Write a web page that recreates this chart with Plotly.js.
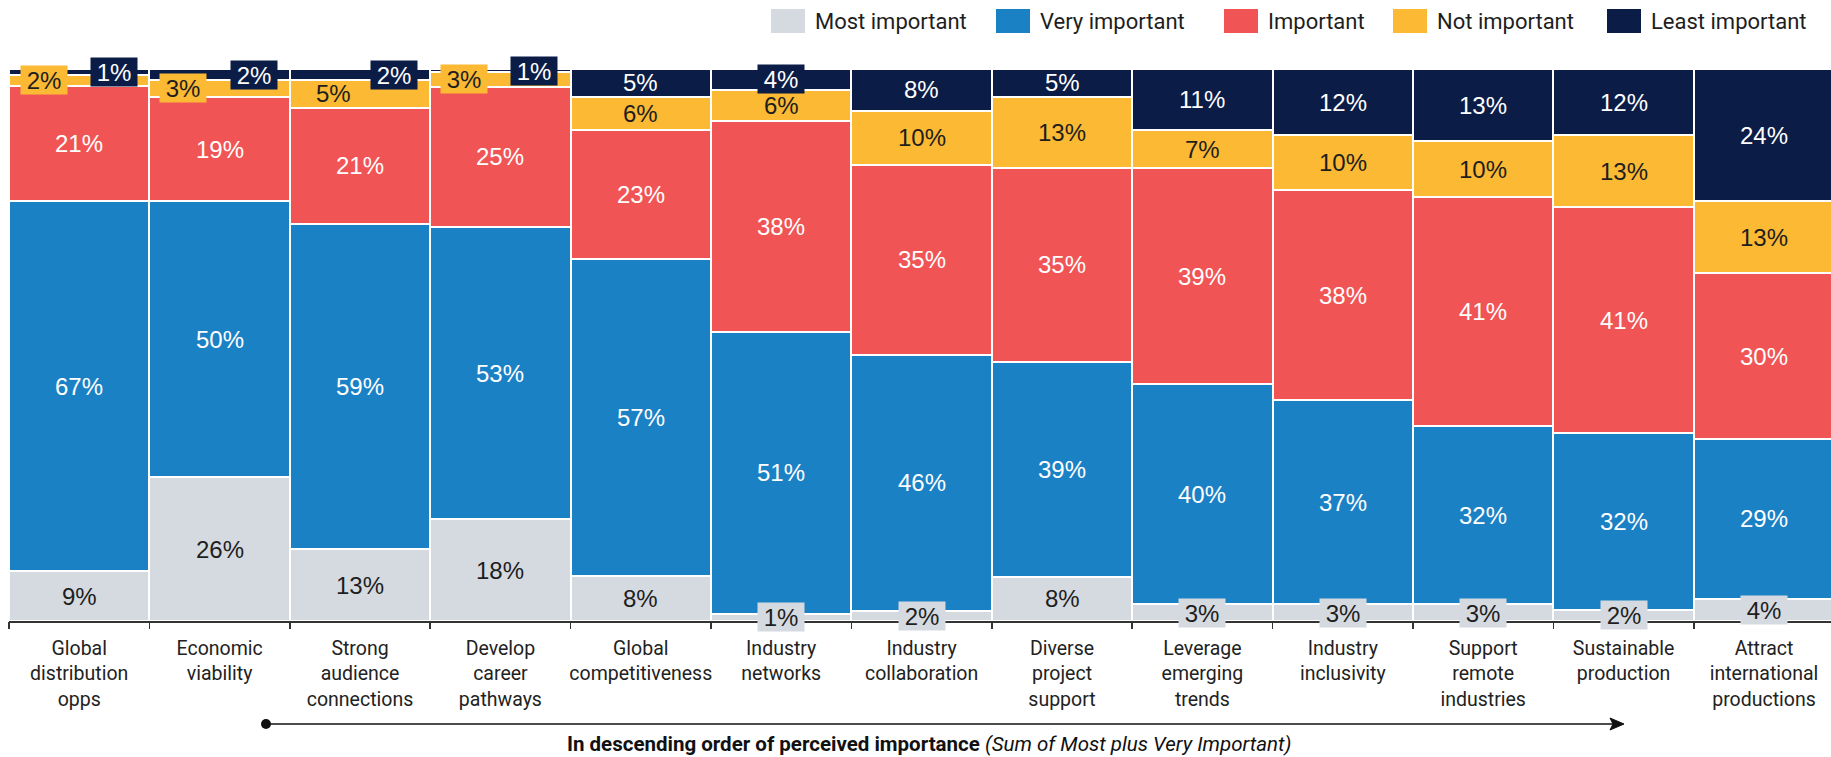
<!DOCTYPE html>
<html>
<head>
<meta charset="utf-8">
<script src="https://cdn.plot.ly/plotly-3.0.1.min.js"></script>
<style>
  html, body { margin: 0; padding: 0; background: #fff; }
  #chart { width: 1831px; height: 757px; }
</style>
</head>
<body>
<div id="chart"></div>
<script>
// ---------- DATA ----------
const categories = [
  'Global<br>distribution<br>opps',
  'Economic<br>viability',
  'Strong<br>audience<br>connections',
  'Develop<br>career<br>pathways',
  'Global<br>competitiveness',
  'Industry<br>networks',
  'Industry<br>collaboration',
  'Diverse<br>project<br>support',
  'Leverage<br>emerging<br>trends',
  'Industry<br>inclusivity',
  'Support<br>remote<br>industries',
  'Sustainable<br>production',
  'Attract<br>international<br>productions'
];
const mostImportant  = [9, 26, 13, 18.4, 8, 1.3, 1.9, 8, 3, 3, 3, 2, 4];
const veryImportant  = [67, 50, 59, 53, 57, 51.1, 46.4, 39, 40, 37, 32, 32, 29];
const important      = [21, 19, 21, 25.4, 23, 38.1, 34.5, 35, 39, 38, 41, 41, 30];
const notImportant   = [2, 3, 5, 2.6, 6, 5.7, 9.8, 13, 7, 10, 10, 13, 13];
const leastImportant = [1, 2, 2, 0.6, 5, 3.8, 7.6, 5, 11, 12, 13, 12, 24];
const seriesNames = ['Most important', 'Very important', 'Important', 'Not important', 'Least important'];
const captionBold = 'In descending order of perceived importance';
const captionItalic = '(Sum of Most plus Very Important)';

// ---------- STYLE ----------
const seriesValues = [mostImportant, veryImportant, important, notImportant, leastImportant];
const colors = ['#D5DAE0', '#1B81C5', '#F15454', '#FBB934', '#0B1C47'];
const labelColors = ['#1e1e1e', '#ffffff', '#ffffff', '#1e1e1e', '#ffffff'];
// horizontal nudges (px) for crowded labels: key = "bar-series"
const labelShift = {'0-3': -35, '0-4': 35, '1-3': -37, '1-4': 34, '2-3': -27, '2-4': 34, '3-3': -36, '3-4': 34};

const W = 1831, H = 757;
const plotL = 9, plotR = 0, plotT = 69, plotB = 136;
const plotW = W - plotL - plotR, plotH = H - plotT - plotB;
const barPx = 140.4;
const px = x => (x - plotL) / plotW;
const py = y => (H - plotB - y) / plotH;

const idx = categories.map((_, i) => i);
const traces = seriesValues.map((vals, s) => ({
  type: 'bar',
  name: seriesNames[s],
  x: idx,
  y: vals,
  marker: { color: colors[s], line: { color: '#ffffff', width: 2 } },
  hoverinfo: 'skip',
  showlegend: false
}));

// labels
const annotations = [];
categories.forEach((c, i) => {
  const total = seriesValues.reduce((a, v) => a + v[i], 0);
  let cum = 0;
  seriesValues.forEach((vals, s) => {
    const v = vals[i];
    const mid = (cum + v / 2) / total * 100;
    cum += v;
    const shown = Math.round(v);
    const boxed = shown <= 4;
    const a = {
      x: i, y: mid, xref: 'x', yref: 'y',
      text: shown + '%', showarrow: false,
      xshift: labelShift[i + '-' + s] || 0,
      font: { family: 'Liberation Sans, Arial, sans-serif', size: 24, color: labelColors[s] },
      xanchor: 'center', yanchor: 'middle'
    };
    if (boxed) {
      a.bgcolor = colors[s];
      a.width = 44; a.height = 26;
    }
    annotations.push(a);
  });
});

// legend (manual)
const shapes = [];
const legendSq = [771, 996, 1224, 1393, 1607];
seriesNames.forEach((n, s) => {
  shapes.push({
    type: 'rect', xref: 'paper', yref: 'paper',
    x0: px(legendSq[s]), x1: px(legendSq[s] + 34), y0: py(33), y1: py(9),
    fillcolor: colors[s], line: { width: 0 }
  });
  annotations.push({
    xref: 'paper', yref: 'paper', x: px(legendSq[s] + 42), y: py(21),
    xanchor: 'left', yanchor: 'middle', showarrow: false,
    text: n, font: { family: 'Roboto, sans-serif', size: 22, color: '#1e1e1e' }
  });
});

// arrow line with dot and head
const ay = 724;
shapes.push({ type: 'line', xref: 'paper', yref: 'paper', x0: px(266), x1: px(1618), y0: py(ay), y1: py(ay), line: { color: '#111', width: 1.6 } });
shapes.push({ type: 'circle', xref: 'paper', yref: 'paper', x0: px(261), x1: px(271), y0: py(ay + 5), y1: py(ay - 5), fillcolor: '#111', line: { width: 0 } });
shapes.push({
  type: 'path', xref: 'paper', yref: 'paper',
  path: `M ${px(1624)} ${py(ay)} L ${px(1610)} ${py(ay - 6)} L ${px(1613)} ${py(ay)} L ${px(1610)} ${py(ay + 6)} Z`,
  fillcolor: '#111', line: { color: '#111', width: 1 }
});
annotations.push({
  xref: 'paper', yref: 'paper', x: px(930), y: py(744), xanchor: 'center', yanchor: 'middle', showarrow: false,
  text: '<b>' + captionBold + '</b> <i>' + captionItalic + '</i>',
  font: { family: 'Roboto, sans-serif', size: 20.5, color: '#111' }
});

const layout = {
  width: W, height: H,
  margin: { l: plotL, r: plotR, t: plotT, b: plotB, pad: 0 },
  paper_bgcolor: '#ffffff', plot_bgcolor: '#ffffff',
  barmode: 'stack', barnorm: 'percent', bargap: 0,
  showlegend: false,
  xaxis: {
    type: 'linear',
    range: [-0.5, -0.5 + plotW / barPx],
    tickmode: 'array', tickvals: idx, ticktext: categories,
    showgrid: false, zeroline: false,
    showline: true, linecolor: '#333', linewidth: 1.5,
    ticks: '', ticklabelstandoff: 9,
    tickfont: { family: 'Roboto, sans-serif', size: 19.5, color: '#222' },
    fixedrange: true
  },
  xaxis2: {
    overlaying: 'x', matches: 'x', side: 'bottom',
    tickmode: 'array', tickvals: idx.concat([idx.length]).map(v => v - 0.5), ticktext: idx.concat([idx.length]).map(() => ''),
    ticks: 'outside', ticklen: 7, tickwidth: 1.5, tickcolor: '#333',
    showgrid: false, zeroline: false, showline: false, showticklabels: false
  },
  yaxis: { range: [0, 100], visible: false, fixedrange: true },
  annotations: annotations,
  shapes: shapes
};

// dummy trace to show boundary ticks on xaxis2
traces.push({ type: 'scatter', x: [0], y: [0], xaxis: 'x2', mode: 'none', hoverinfo: 'skip', showlegend: false });

Plotly.newPlot('chart', traces, layout, { staticPlot: true, displayModeBar: false });
</script>
</body>
</html>
